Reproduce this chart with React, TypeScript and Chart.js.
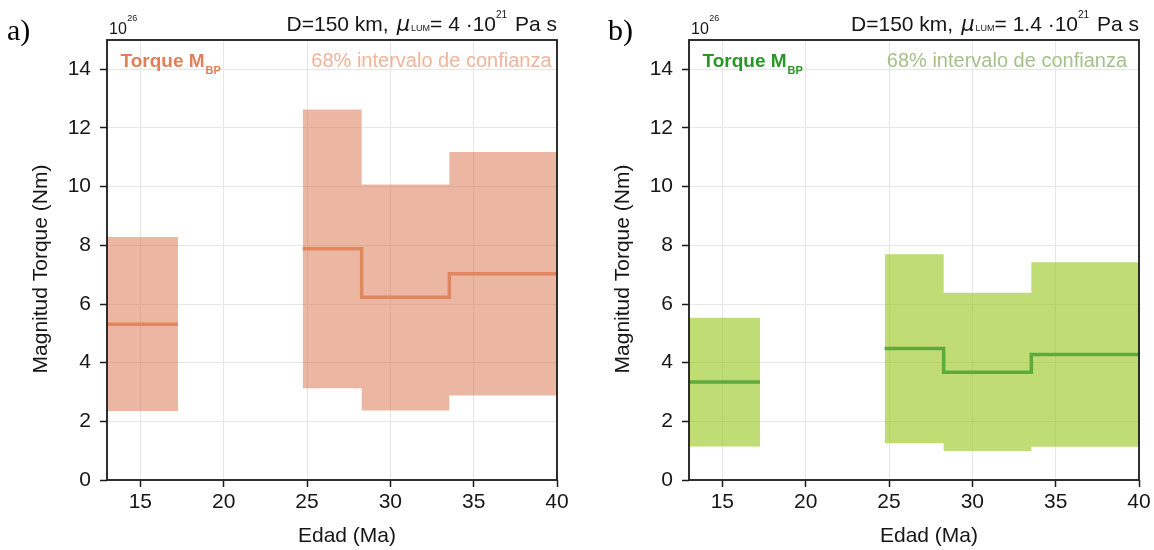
import React, { useEffect, useRef } from "react";
import { Chart, registerables } from "chart.js";

Chart.register(...registerables);

// ---- axis definitions ----
const xTickValues = [15, 20, 25, 30, 35, 40];
const yTickValues = [0, 2, 4, 6, 8, 10, 12, 14];
const xMin = 13;
const xMax = 40;
const yMin = 0;
const yMax = 15;

// ---- age bin edges (Ma) ----
const earlyEdges = [13, 17.26];
const lateEdges = [24.74, 28.28, 33.54, 40];

// ---- panel a) torque (x 10^26 Nm) ----
const aMedianEarly = [5.31];
const aUpperEarly = [8.28];
const aLowerEarly = [2.35];
const aMedianLate = [7.88, 6.23, 7.03];
const aUpperLate = [12.63, 10.07, 11.18];
const aLowerLate = [3.13, 2.37, 2.88];

// ---- panel b) torque (x 10^26 Nm) ----
const bMedianEarly = [3.34];
const bUpperEarly = [5.53];
const bLowerEarly = [1.14];
const bMedianLate = [4.48, 3.67, 4.28];
const bUpperLate = [7.7, 6.38, 7.42];
const bLowerLate = [1.25, 0.99, 1.13];

const SANS = "'Liberation Sans', Arial, sans-serif";
const TEXT = "#161616";

type Run = { t: string; font: string; color?: string; dy?: number; before?: number };

// value[i] holds on [edges[i], edges[i+1]] (stepped "before": the previous
// point's y is kept until the next point's x)
function steps(edges: number[], values: number[]) {
  const pts = values.map((v, i) => ({ x: edges[i], y: v }));
  pts.push({ x: edges[edges.length - 1], y: values[values.length - 1] });
  return pts;
}

function drawRuns(ctx: CanvasRenderingContext2D, runs: Run[], x: number, baseline: number, align: "left" | "right", color: string) {
  const widths = runs.map((r) => {
    ctx.font = r.font;
    return ctx.measureText(r.t).width + (r.before || 0);
  });
  const total = widths.reduce((s, w) => s + w, 0);
  let cx = align === "right" ? x - total : x;
  ctx.textAlign = "left";
  ctx.textBaseline = "alphabetic";
  runs.forEach((r, i) => {
    ctx.font = r.font;
    ctx.fillStyle = r.color || color;
    ctx.fillText(r.t, cx + (r.before || 0), baseline + (r.dy || 0));
    cx += widths[i];
  });
}

type PanelCfg = {
  left: number;
  width: number;
  rightPad: number;
  label: string;
  labelX: number;
  viscosity: string;
  medianEarly: number[];
  upperEarly: number[];
  lowerEarly: number[];
  medianLate: number[];
  upperLate: number[];
  lowerLate: number[];
  lineColor: string;
  fillColor: string;
  legendColor: string;
  bandTextColor: string;
  bandTextRight: number;
};

const panels: PanelCfg[] = [
  {
    left: 0,
    width: 577,
    rightPad: 20,
    label: "a)",
    labelX: 7,
    viscosity: "4",
    medianEarly: aMedianEarly,
    upperEarly: aUpperEarly,
    lowerEarly: aLowerEarly,
    medianLate: aMedianLate,
    upperLate: aUpperLate,
    lowerLate: aLowerLate,
    lineColor: "#e0875f",
    fillColor: "rgba(217,112,70,0.5)",
    legendColor: "#e27f58",
    bandTextColor: "#f0b49a",
    bandTextRight: 551.5,
  },
  {
    left: 582,
    width: 572,
    rightPad: 15,
    label: "b)",
    labelX: 26,
    viscosity: "1.4",
    medianEarly: bMedianEarly,
    upperEarly: bUpperEarly,
    lowerEarly: bLowerEarly,
    medianLate: bMedianLate,
    upperLate: bUpperLate,
    lowerLate: bLowerLate,
    lineColor: "#5cab3c",
    fillColor: "rgba(150,197,23,0.6)",
    legendColor: "#279727",
    bandTextColor: "#a6c08a",
    bandTextRight: 545,
  },
];

function Panel({ cfg }: { cfg: PanelCfg }) {
  const ref = useRef<HTMLCanvasElement | null>(null);

  useEffect(() => {
    if (!ref.current) return;

    const decor = {
      id: "decor",
      afterDraw(chart: any) {
        const ctx: CanvasRenderingContext2D = chart.ctx;
        const a = chart.chartArea;
        ctx.save();
        // frame
        ctx.strokeStyle = "#1a1a1a";
        ctx.lineWidth = 1.8;
        ctx.strokeRect(a.left, a.top, a.right - a.left, a.bottom - a.top);

        // panel label
        ctx.fillStyle = "#000";
        ctx.font = "30px 'Liberation Serif', 'Times New Roman', serif";
        ctx.textAlign = "left";
        ctx.textBaseline = "alphabetic";
        ctx.fillText(cfg.label, cfg.labelX, 40);

        // offset text 10^26
        drawRuns(
          ctx,
          [
            { t: "10", font: `16px ${SANS}` },
            { t: "26", font: `9px ${SANS}`, dy: -13, before: 0.5 },
          ],
          a.left + 2,
          34,
          "left",
          TEXT
        );

        // title
        drawRuns(
          ctx,
          [
            { t: "D=150 km,", font: `21px ${SANS}` },
            { t: "μ", font: "italic 21px 'DejaVu Sans', sans-serif", before: 8 },
            { t: "LUM", font: `9px ${SANS}`, before: 1 },
            { t: `= ${cfg.viscosity} ·10`, font: `21px ${SANS}` },
            { t: "21", font: `10px ${SANS}`, dy: -13 },
            { t: " Pa s", font: `21px ${SANS}`, before: 2 },
          ],
          a.right,
          31,
          "right",
          TEXT
        );

        // legend texts
        drawRuns(
          ctx,
          [
            { t: "Torque M", font: `bold 19px ${SANS}` },
            { t: "BP", font: `bold 11px ${SANS}`, dy: 7, before: 1 },
          ],
          a.left + 13.5,
          66.7,
          "left",
          cfg.legendColor
        );
        drawRuns(
          ctx,
          [{ t: "68% intervalo de confianza", font: `20px ${SANS}` }],
          cfg.bandTextRight,
          66.7,
          "right",
          cfg.bandTextColor
        );

        // axis titles
        ctx.fillStyle = TEXT;
        ctx.font = `21px ${SANS}`;
        ctx.textAlign = "center";
        ctx.textBaseline = "alphabetic";
        ctx.fillText("Edad (Ma)", (a.left + a.right) / 2 + 15, 542);
        ctx.save();
        ctx.translate(47, (a.top + a.bottom) / 2 + 9);
        ctx.rotate(-Math.PI / 2);
        ctx.fillText("Magnitud Torque (Nm)", 0, 0);
        ctx.restore();

        ctx.restore();
      },
    };

    const lineBase = {
      pointRadius: 0,
      pointHoverRadius: 0,
      stepped: "before" as const,
      tension: 0,
    };

    const chart = new Chart(ref.current, {
      type: "line",
      data: {
        datasets: [
          {
            ...lineBase,
            label: "median early",
            data: steps(earlyEdges, cfg.medianEarly),
            borderColor: cfg.lineColor,
            borderWidth: 3.5,
            fill: false,
          },
          {
            ...lineBase,
            label: "median late",
            data: steps(lateEdges, cfg.medianLate),
            borderColor: cfg.lineColor,
            borderWidth: 3.5,
            fill: false,
          },
          {
            ...lineBase,
            label: "upper early",
            data: steps(earlyEdges, cfg.upperEarly),
            borderColor: "rgba(0,0,0,0)",
            borderWidth: 0,
            backgroundColor: cfg.fillColor,
            fill: 3,
          },
          {
            ...lineBase,
            label: "lower early",
            data: steps(earlyEdges, cfg.lowerEarly),
            borderColor: "rgba(0,0,0,0)",
            borderWidth: 0,
            fill: false,
          },
          {
            ...lineBase,
            label: "upper late",
            data: steps(lateEdges, cfg.upperLate),
            borderColor: "rgba(0,0,0,0)",
            borderWidth: 0,
            backgroundColor: cfg.fillColor,
            fill: 5,
          },
          {
            ...lineBase,
            label: "lower late",
            data: steps(lateEdges, cfg.lowerLate),
            borderColor: "rgba(0,0,0,0)",
            borderWidth: 0,
            fill: false,
          },
        ],
      },
      options: {
        animation: false,
        responsive: false,
        devicePixelRatio: 1,
        events: [],
        layout: { padding: { top: 40, right: cfg.rightPad, left: 0, bottom: 0 } },
        plugins: {
          legend: { display: false },
          tooltip: { enabled: false },
          title: { display: false },
        },
        scales: {
          x: {
            type: "linear",
            min: xMin,
            max: xMax,
            afterBuildTicks: (s: any) => {
              s.ticks = xTickValues.map((v) => ({ value: v }));
            },
            afterFit: (s: any) => {
              s.height = 70;
            },
            grid: {
              color: "#e6e6e6",
              lineWidth: 1,
              drawTicks: true,
              tickLength: 7,
              tickColor: "#1a1a1a",
              tickWidth: 1.5,
            },
            border: { display: false },
            ticks: {
              font: { family: SANS, size: 21 },
              color: TEXT,
              padding: 3,
              maxRotation: 0,
              autoSkip: false,
            },
          },
          y: {
            type: "linear",
            min: yMin,
            max: yMax,
            afterBuildTicks: (s: any) => {
              s.ticks = yTickValues.map((v) => ({ value: v }));
            },
            afterFit: (s: any) => {
              s.width = 107;
            },
            grid: {
              color: "#e6e6e6",
              lineWidth: 1,
              drawTicks: true,
              tickLength: 7,
              tickColor: "#1a1a1a",
              tickWidth: 1.5,
            },
            border: { display: false },
            ticks: {
              font: { family: SANS, size: 21 },
              color: TEXT,
              padding: 9,
              autoSkip: false,
            },
          },
        },
      } as any,
      plugins: [decor],
    });

    return () => chart.destroy();
  }, [cfg]);

  return (
    <canvas
      ref={ref}
      width={cfg.width}
      height={550}
      style={{ position: "absolute", left: cfg.left, top: 0, width: cfg.width, height: 550, display: "block" }}
    />
  );
}

export default function App() {
  return (
    <div
      style={{
        position: "fixed",
        left: 0,
        top: 0,
        width: 1154,
        height: 550,
        background: "#ffffff",
        overflow: "hidden",
      }}
    >
      {panels.map((p) => (
        <Panel key={p.label} cfg={p} />
      ))}
    </div>
  );
}
